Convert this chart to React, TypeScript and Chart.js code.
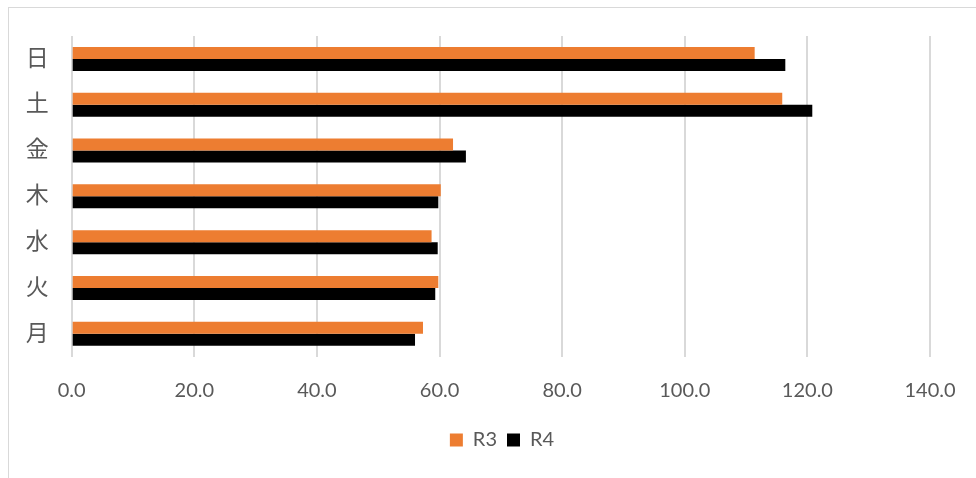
import React, { useEffect, useRef } from "react";
import { Chart, registerables } from "chart.js";

Chart.register(...registerables);

const categories = ["日", "土", "金", "木", "水", "火", "月"];
const seriesNames = ["R3", "R4"];
const r3Values = [111.4, 115.9, 62.2, 60.2, 58.7, 59.8, 57.3];
const r4Values = [116.4, 120.8, 64.3, 59.8, 59.7, 59.3, 56.0];
const seriesColors = ["#ED7D31", "#000000"];
const xMin = 0;
const xMax = 140;
const xStep = 20;

export default function App() {
  const ref = useRef<HTMLCanvasElement | null>(null);

  useEffect(() => {
    if (!ref.current) return;
    const chart = new Chart(ref.current, {
      type: "bar",
      data: {
        labels: categories,
        datasets: [
          {
            label: seriesNames[0],
            data: r3Values,
            backgroundColor: seriesColors[0],
            categoryPercentage: 0.524,
            barPercentage: 1.0,
          },
          {
            label: seriesNames[1],
            data: r4Values,
            backgroundColor: seriesColors[1],
            categoryPercentage: 0.524,
            barPercentage: 1.0,
          },
        ],
      },
      options: {
        indexAxis: "y",
        animation: false,
        responsive: false,
        maintainAspectRatio: false,
        layout: { padding: { left: 16, right: 16, top: 28, bottom: 18 } },
        plugins: {
          tooltip: { enabled: false },
          legend: {
            position: "bottom",
            labels: {
              boxWidth: 13,
              boxHeight: 13,
              padding: 10,
              color: "#595959",
              font: { family: "Lato, 'Open Sans', sans-serif", size: 20 },
            },
          },
        },
        scales: {
          x: {
            min: xMin,
            max: xMax,
            ticks: {
              stepSize: xStep,
              padding: 22,
              color: "#595959",
              font: { family: "Lato, 'Open Sans', sans-serif", size: 20 },
              callback: (v: any) => Number(v).toFixed(1),
            },
            grid: { color: "#d9d9d9", lineWidth: 2, drawTicks: false },
            border: { display: false },
            afterFit: (scale: any) => {
              scale.height = 63.3;
            },
          },
          y: {
            ticks: {
              padding: 23,
              labelOffset: -2,
              color: "#595959",
              font: { family: "'Noto Sans CJK JP', sans-serif", size: 23 },
            },
            grid: { display: false, drawTicks: false },
            border: { display: false },
            afterFit: (scale: any) => {
              scale.width = 46.7;
              scale.paddingTop = 0;
              scale.paddingBottom = 0;
            },
          },
          yRight: {
            axis: "y",
            type: "category",
            position: "right",
            display: true,
            ticks: { display: false },
            grid: { display: false, drawTicks: false },
            border: { display: false },
            afterFit: (scale: any) => {
              scale.width = 49;
              scale.paddingTop = 0;
              scale.paddingBottom = 0;
            },
          },
        },
      },
    });
    return () => chart.destroy();
  }, []);

  return (
    <div style={{ position: "absolute", left: 0, top: 0, width: 976, height: 478, overflow: "hidden", background: "#fff" }}>
      <div
        style={{
          position: "absolute",
          left: 8,
          top: 7,
          width: 1000,
          height: 520,
          borderLeft: "1px solid #d9d9d9",
          borderTop: "1px solid #d9d9d9",
        }}
      >
        <canvas ref={ref} width={986} height={470} style={{ display: "block" }} />
      </div>
    </div>
  );
}
